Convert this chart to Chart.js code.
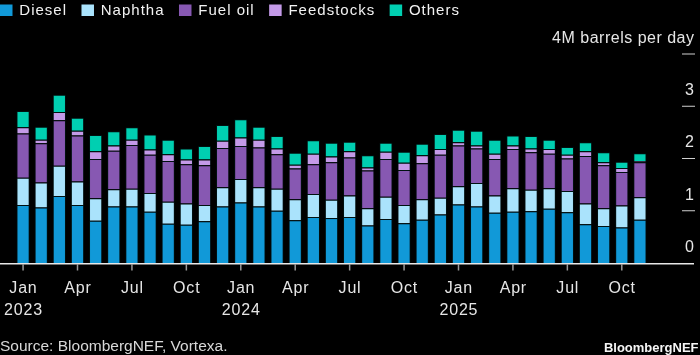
<!DOCTYPE html>
<html><head><meta charset="utf-8">
<script src="https://cdn.jsdelivr.net/npm/chart.js@4"></script>
<style>html,body{margin:0;padding:0;background:#000;}#wrap{width:700px;height:355px;position:relative;}</style>
</head><body><div id="wrap"><canvas id="c" width="700" height="355"></canvas></div>
<script>
const categories = [
 'Jan 2023','Feb 2023','Mar 2023','Apr 2023','May 2023','Jun 2023','Jul 2023','Aug 2023','Sep 2023','Oct 2023','Nov 2023','Dec 2023',
 'Jan 2024','Feb 2024','Mar 2024','Apr 2024','May 2024','Jun 2024','Jul 2024','Aug 2024','Sep 2024','Oct 2024','Nov 2024','Dec 2024',
 'Jan 2025','Feb 2025','Mar 2025','Apr 2025','May 2025','Jun 2025','Jul 2025','Aug 2025','Sep 2025','Oct 2025','Nov 2025'
];
const diesel     = [1.11,1.06,1.28,1.11,0.81,1.08,1.08,0.98,0.75,0.73,0.80,1.08, 1.16,1.08,1.00,0.82,0.88,0.86,0.88,0.72,0.84,0.76,0.83,0.93, 1.12,1.08,0.96,0.98,0.99,1.04,0.97,0.74,0.71,0.68,0.83];
const naphtha    = [0.52,0.48,0.58,0.45,0.43,0.33,0.34,0.36,0.42,0.41,0.31,0.37, 0.45,0.37,0.42,0.40,0.44,0.35,0.41,0.33,0.43,0.35,0.39,0.32, 0.35,0.45,0.33,0.45,0.41,0.39,0.41,0.40,0.34,0.42,0.43];
const fuelOil    = [0.85,0.75,0.87,0.88,0.75,0.74,0.84,0.73,0.78,0.75,0.76,0.75, 0.63,0.76,0.66,0.59,0.57,0.72,0.73,0.72,0.72,0.67,0.69,0.82, 0.78,0.66,0.70,0.75,0.72,0.66,0.62,0.91,0.82,0.64,0.67];
const feedstocks = [0.12,0.07,0.16,0.09,0.15,0.10,0.10,0.10,0.13,0.09,0.11,0.14, 0.16,0.15,0.11,0.07,0.20,0.11,0.12,0.06,0.14,0.14,0.15,0.11, 0.06,0.06,0.10,0.07,0.07,0.09,0.07,0.09,0.06,0.08,0.02];
const others     = [0.31,0.25,0.33,0.25,0.31,0.27,0.24,0.29,0.28,0.21,0.26,0.30, 0.35,0.25,0.24,0.23,0.26,0.26,0.18,0.23,0.17,0.21,0.22,0.29, 0.24,0.28,0.27,0.19,0.24,0.18,0.15,0.17,0.19,0.12,0.15];

const seriesNames  = ['Diesel','Naphtha','Fuel oil','Feedstocks','Others'];
const seriesColors = ['#1199d8','#aae3fc','#8758b2','#c49ae8','#00cfb1'];
const xTickMonths  = ['Jan','Apr','Jul','Oct'];
const yTicks       = [0,1,2,3];
const yMax         = 4;
const yTitle       = '4M barrels per day';
const sourceText   = 'Source: BloombergNEF, Vortexa.';
const brandText    = 'BloombergNEF';

const FONT = '"Liberation Sans", Arial, Helvetica, sans-serif';

const overlay = {
  id: 'overlay',
  afterDraw(chart) {
    const ctx = chart.ctx;
    const xs = chart.scales.x, ys = chart.scales.y;
    const y0 = ys.getPixelForValue(0);
    ctx.save();
    // baseline
    ctx.strokeStyle = '#e8e8e8';
    ctx.lineWidth = 1.5;
    ctx.beginPath(); ctx.moveTo(0, y0 + 0.8); ctx.lineTo(694, y0 + 0.8); ctx.stroke();

    // x ticks & labels
    ctx.textAlign = 'center';
    ctx.textBaseline = 'alphabetic';
    ctx.fillStyle = '#e6e6e6';
    ctx.font = '16px ' + FONT;
    categories.forEach((c, i) => {
      const [m, yr] = c.split(' ');
      if (!xTickMonths.includes(m)) return;
      const x = xs.getPixelForValue(i);
      ctx.strokeStyle = '#9a9a9a';
      ctx.lineWidth = 1.5;
      ctx.beginPath(); ctx.moveTo(x, y0 + 1); ctx.lineTo(x, y0 + 7.5); ctx.stroke();
      ctx.letterSpacing = '0.8px';
      ctx.fillText(m, x + 0.4, y0 + 30);
      if (m === 'Jan') ctx.fillText(yr, x + 0.4, y0 + 51.7);
      ctx.letterSpacing = '0px';
    });

    // y ticks (right side)
    ctx.textAlign = 'right';
    ctx.textBaseline = 'middle';
    const tickVals = yTicks.concat([yMax]);
    tickVals.forEach(v => {
      const y = ys.getPixelForValue(v);
      if (v !== 0) {
        ctx.strokeStyle = '#d0d0d0';
        ctx.lineWidth = 1;
        ctx.beginPath(); ctx.moveTo(682, y); ctx.lineTo(695, y); ctx.stroke();
      }
      ctx.fillStyle = '#e6e6e6';
      ctx.font = '16px ' + FONT;
      ctx.letterSpacing = '0.5px';
      ctx.fillText(v === yMax ? yTitle : String(v), 694.5, y - 15.5);
      ctx.letterSpacing = '0px';
    });

    // legend
    ctx.textAlign = 'left';
    ctx.textBaseline = 'middle';
    ctx.font = '15px ' + FONT;
    let lx = 0;
    chart.data.datasets.forEach(ds => {
      ctx.fillStyle = ds.backgroundColor;
      ctx.fillRect(lx, 4.5, 12.5, 11.5);
      ctx.fillStyle = '#f2f2f2';
      ctx.letterSpacing = '1px';
      ctx.fillText(ds.label, lx + 19.3, 11);
      const w = ctx.measureText(ds.label).width;
      ctx.letterSpacing = '0px';
      lx += 19.3 + w + 14.5;
    });

    // source
    ctx.textBaseline = 'alphabetic';
    ctx.fillStyle = '#d8d8d8';
    ctx.font = '15.5px ' + FONT;
    ctx.fillText(sourceText, 0, 351);
    ctx.textAlign = 'right';
    ctx.fillStyle = '#f5f5f5';
    ctx.font = 'bold 13px ' + FONT;
    ctx.fillText(brandText, 698.5, 351.7);
    ctx.restore();
  }
};

const seriesData = [diesel, naphtha, fuelOil, feedstocks, others];
new Chart(document.getElementById('c'), {
  type: 'bar',
  data: {
    labels: categories,
    datasets: seriesNames.map((n, k) => ({
      label: n,
      data: seriesData[k],
      backgroundColor: seriesColors[k],
      borderColor: 'rgba(0,30,30,0.55)',
      borderWidth: 1,
      barPercentage: 0.73,
      categoryPercentage: 1
    }))
  },
  options: {
    responsive: false,
    animation: false,
    devicePixelRatio: 1,
    layout: { padding: { left: 14, right: 51, top: 54, bottom: 92 } },
    plugins: { legend: { display: false }, tooltip: { enabled: false }, title: { display: false } },
    scales: {
      x: { stacked: true, display: false, offset: true },
      y: { stacked: true, display: false, min: 0, max: yMax }
    }
  },
  plugins: [overlay]
});
</script>
</body></html>
